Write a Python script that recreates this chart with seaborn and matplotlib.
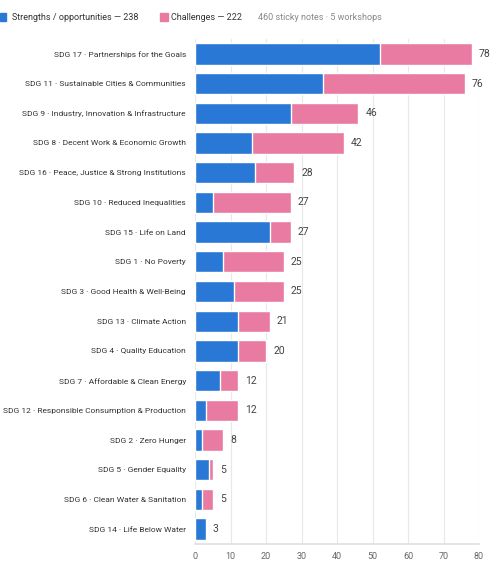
import matplotlib
matplotlib.use("Agg")
import matplotlib.pyplot as plt
import seaborn as sns
import pandas as pd
import numpy as np

categories = [
    "SDG 17 · Partnerships for the Goals",
    "SDG 11 · Sustainable Cities & Communities",
    "SDG 9 · Industry, Innovation & Infrastructure",
    "SDG 8 · Decent Work & Economic Growth",
    "SDG 16 · Peace, Justice & Strong Institutions",
    "SDG 10 · Reduced Inequalities",
    "SDG 15 · Life on Land",
    "SDG 1 · No Poverty",
    "SDG 3 · Good Health & Well-Being",
    "SDG 13 · Climate Action",
    "SDG 4 · Quality Education",
    "SDG 7 · Affordable & Clean Energy",
    "SDG 12 · Responsible Consumption & Production",
    "SDG 2 · Zero Hunger",
    "SDG 5 · Gender Equality",
    "SDG 6 · Clean Water & Sanitation",
    "SDG 14 · Life Below Water",
]
strengths = [52, 36, 27, 16, 17, 5, 21, 8, 11, 12, 12, 7, 3, 2, 4, 2, 3]
challenges = [26, 40, 19, 26, 11, 22, 6, 17, 14, 9, 8, 5, 9, 6, 1, 3, 0]
x_ticks = [0, 10, 20, 30, 40, 50, 60, 70, 80]

BLUE = "#2a78d6"
PINK = "#e97ba3"

sns.set_theme(style="white")
plt.rcParams['font.family'] = ['Roboto', 'DejaVu Sans']

df = pd.DataFrame({"cat": categories, "s": strengths, "c": challenges})
df["total"] = df["s"] + df["c"]

fig = plt.figure(figsize=(5.03, 5.75), dpi=100)
ax = fig.add_axes([195/503, 1-544/575, (479-195)/503, (544-39)/575])

sns.barplot(data=df, y="cat", x="total", color=PINK, orient="h", width=0.72,
            edgecolor="white", linewidth=1.0, ax=ax, saturation=1)
sns.barplot(data=df, y="cat", x="s", color=BLUE, orient="h", width=0.72,
            edgecolor="white", linewidth=1.0, ax=ax, saturation=1)

for i, t in enumerate(df["total"]):
    ax.text(t + 2.0, i, str(t), va="center", ha="left", fontsize=7.5, color="#444444")

ax.set_xlim(0, 80)
ax.set_ylim(16.5, -0.5)
ax.set_xticks(x_ticks)
ax.set_xticklabels([str(v) for v in x_ticks], fontsize=6.5, color="#666666")
ax.tick_params(axis="y", labelsize=6.0, colors="#333333", length=0, pad=6.5)
ax.tick_params(axis="x", length=3, color="#dddddd", pad=3)
ax.set_xlabel("")
ax.set_ylabel("")
ax.grid(axis="x", color="#e8e8e8", linewidth=0.8)
ax.set_axisbelow(True)
for side in ["top", "right", "left"]:
    ax.spines[side].set_visible(False)
ax.spines["bottom"].set_color("#e0e0e0")

# Legend header
fig.patches.append(plt.Rectangle((0/503, 1-21/575), 6/503, 8/575, transform=fig.transFigure,
                                 color=BLUE, figure=fig))
fig.text(12/503, 1-17/575, "Strengths / opportunities — 238", fontsize=6.5, color="#333333", va="center")
fig.patches.append(plt.Rectangle((160/503, 1-21/575), 8/503, 8/575, transform=fig.transFigure,
                                 color=PINK, figure=fig))
fig.text(171/503, 1-17/575, "Challenges — 222", fontsize=6.5, color="#333333", va="center")
fig.text(258/503, 1-17/575, "460 sticky notes · 5 workshops", fontsize=6.5, color="#888888", va="center")

fig.savefig("out.png", dpi=100, facecolor="white")
